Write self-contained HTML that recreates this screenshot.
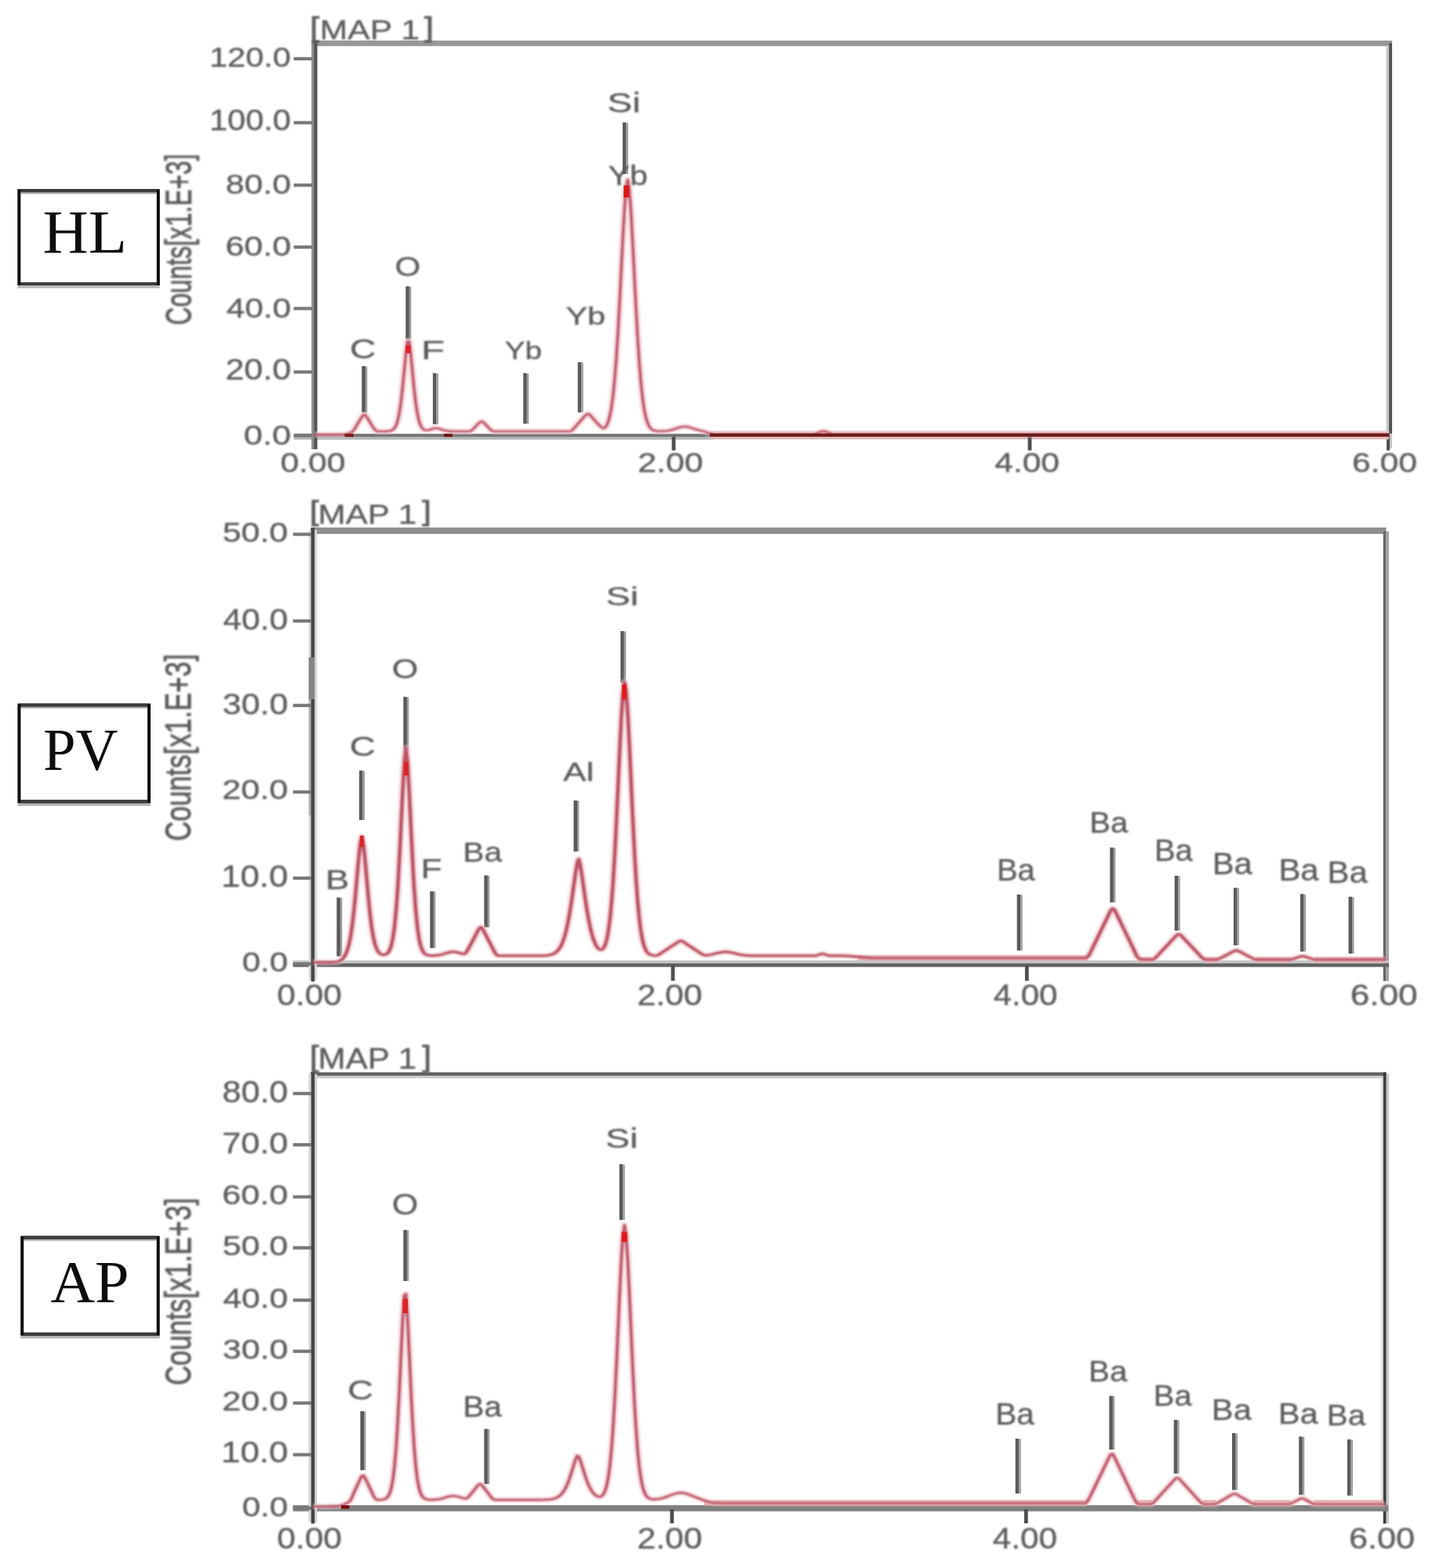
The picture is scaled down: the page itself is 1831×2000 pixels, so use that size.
<!DOCTYPE html>
<html lang="en">
<head>
<meta charset="utf-8">
<title>EDS spectra HL PV AP</title>
<style>
html,body{margin:0;padding:0;background:#fff;}
body{width:1831px;height:2000px;overflow:hidden;}
svg{display:block;}
text{white-space:pre;}
</style>
</head>
<body>
<svg width="1831" height="2000" viewBox="0 0 1831 2000">
<defs>
<filter id="soft" x="0" y="0" width="1831" height="2000" filterUnits="userSpaceOnUse"><feGaussianBlur stdDeviation="1.0"/></filter>
<filter id="soft3" x="0" y="0" width="1831" height="2000" filterUnits="userSpaceOnUse"><feGaussianBlur stdDeviation="1.1"/></filter>
<filter id="soft2" x="0" y="0" width="1831" height="2000" filterUnits="userSpaceOnUse"><feGaussianBlur stdDeviation="0.45"/></filter>
</defs>
<rect x="0" y="0" width="1831" height="2000" fill="#ffffff"/>
<g filter="url(#soft2)">
<rect x="397.20" y="51.70" width="1377.80" height="7.10" fill="#979797"/>
<rect x="1767.50" y="58.00" width="3.50" height="495.00" fill="#c6c6c6"/>
<rect x="1771.00" y="55.00" width="4.00" height="498.00" fill="#555"/>
<rect x="1768.00" y="553.00" width="4.00" height="21.60" fill="#4f4f4f"/>
<rect x="1772.00" y="553.00" width="3.00" height="19.00" fill="#c6c6c6"/>
<rect x="374.80" y="553.30" width="535.20" height="4.30" fill="#727272"/>
<rect x="374.80" y="557.60" width="535.20" height="3.20" fill="#b2b8b8"/>
<rect x="905.00" y="549.60" width="866.00" height="3.20" fill="#eccaca"/>
<rect x="905.00" y="557.10" width="866.00" height="3.30" fill="#d9baba"/>
<rect x="397.20" y="52.00" width="3.00" height="521.00" fill="#8c8c8c"/>
<rect x="400.20" y="52.00" width="4.40" height="521.00" fill="#555"/>
<rect x="374.50" y="72.80" width="23.50" height="4.20" fill="#787878"/>
<rect x="374.50" y="154.40" width="23.50" height="4.20" fill="#787878"/>
<rect x="374.50" y="234.10" width="23.50" height="4.20" fill="#787878"/>
<rect x="374.50" y="313.10" width="23.50" height="4.20" fill="#787878"/>
<rect x="374.50" y="391.40" width="23.50" height="4.20" fill="#787878"/>
<rect x="374.50" y="472.40" width="23.50" height="4.20" fill="#787878"/>
<rect x="374.50" y="553.40" width="23.50" height="4.20" fill="#787878"/>
<rect x="856.60" y="557.00" width="4.80" height="17.50" fill="#4f4f4f"/>
<rect x="1310.60" y="557.00" width="4.80" height="17.50" fill="#4f4f4f"/>
<rect x="461.30" y="467.00" width="4.60" height="59.30" fill="#5a5a5a"/>
<rect x="465.90" y="467.50" width="2.40" height="58.80" fill="#9c9c9c"/>
<rect x="517.30" y="365.20" width="4.60" height="67.30" fill="#5a5a5a"/>
<rect x="521.90" y="365.70" width="2.40" height="66.80" fill="#9c9c9c"/>
<rect x="551.90" y="476.00" width="4.60" height="65.20" fill="#5a5a5a"/>
<rect x="556.50" y="476.50" width="2.40" height="64.70" fill="#9c9c9c"/>
<rect x="667.20" y="476.00" width="4.60" height="64.50" fill="#5a5a5a"/>
<rect x="671.80" y="476.50" width="2.40" height="64.00" fill="#9c9c9c"/>
<rect x="736.70" y="462.00" width="4.60" height="64.00" fill="#5a5a5a"/>
<rect x="741.30" y="462.50" width="2.40" height="63.50" fill="#9c9c9c"/>
<rect x="793.90" y="156.20" width="4.60" height="65.80" fill="#5a5a5a"/>
<rect x="798.50" y="156.70" width="2.40" height="65.30" fill="#9c9c9c"/>
</g>
<g filter="url(#soft)">
<text transform="translate(266.98,85.35) scale(1.1711,1)" font-family="'Liberation Sans', sans-serif" font-size="35.48" fill="#5c5c5c" stroke="#5c5c5c" stroke-width="0.35">120.0</text>
<text transform="translate(266.98,166.34) scale(1.1394,1)" font-family="'Liberation Sans', sans-serif" font-size="36.47" fill="#5c5c5c" stroke="#5c5c5c" stroke-width="0.35">100.0</text>
<text transform="translate(287.78,246.74) scale(1.2013,1)" font-family="'Liberation Sans', sans-serif" font-size="35.62" fill="#5c5c5c" stroke="#5c5c5c" stroke-width="0.35">80.0</text>
<text transform="translate(287.45,325.54) scale(1.2014,1)" font-family="'Liberation Sans', sans-serif" font-size="35.76" fill="#5c5c5c" stroke="#5c5c5c" stroke-width="0.35">60.0</text>
<text transform="translate(288.65,405.35) scale(1.1933,1)" font-family="'Liberation Sans', sans-serif" font-size="35.48" fill="#5c5c5c" stroke="#5c5c5c" stroke-width="0.35">40.0</text>
<text transform="translate(287.45,483.64) scale(1.1781,1)" font-family="'Liberation Sans', sans-serif" font-size="36.47" fill="#5c5c5c" stroke="#5c5c5c" stroke-width="0.35">20.0</text>
<text transform="translate(310.87,567.35) scale(1.2198,1)" font-family="'Liberation Sans', sans-serif" font-size="35.48" fill="#5c5c5c" stroke="#5c5c5c" stroke-width="0.35">0.0</text>
<text transform="translate(357.39,602.25) scale(1.2175,1)" font-family="'Liberation Sans', sans-serif" font-size="35.05" fill="#5c5c5c" stroke="#5c5c5c" stroke-width="0.35">0.00</text>
<text transform="translate(813.16,602.25) scale(1.2225,1)" font-family="'Liberation Sans', sans-serif" font-size="35.05" fill="#5c5c5c" stroke="#5c5c5c" stroke-width="0.35">2.00</text>
<text transform="translate(1268.24,602.25) scale(1.2138,1)" font-family="'Liberation Sans', sans-serif" font-size="35.05" fill="#5c5c5c" stroke="#5c5c5c" stroke-width="0.35">4.00</text>
<text transform="translate(1723.97,602.25) scale(1.2148,1)" font-family="'Liberation Sans', sans-serif" font-size="35.05" fill="#5c5c5c" stroke="#5c5c5c" stroke-width="0.35">6.00</text>
<text transform="translate(445.99,456.54) scale(1.2947,1)" font-family="'Liberation Sans', sans-serif" font-size="35.76" fill="#5c5c5c" stroke="#5c5c5c" stroke-width="0.35">C</text>
<text transform="translate(503.60,351.55) scale(1.2087,1)" font-family="'Liberation Sans', sans-serif" font-size="34.91" fill="#5c5c5c" stroke="#5c5c5c" stroke-width="0.35">O</text>
<text transform="translate(537.04,458.00) scale(1.4845,1)" font-family="'Liberation Sans', sans-serif" font-size="33.16" fill="#5c5c5c" stroke="#5c5c5c" stroke-width="0.35">F</text>
<text transform="translate(643.73,457.69) scale(1.2450,1)" font-family="'Liberation Sans', sans-serif" font-size="31.02" fill="#5c5c5c" stroke="#5c5c5c" stroke-width="0.35">Yb</text>
<text transform="translate(721.47,413.79) scale(1.3339,1)" font-family="'Liberation Sans', sans-serif" font-size="31.02" fill="#5c5c5c" stroke="#5c5c5c" stroke-width="0.35">Yb</text>
<text transform="translate(774.34,142.96) scale(1.3937,1)" font-family="'Liberation Sans', sans-serif" font-size="34.42" fill="#5c5c5c" stroke="#5c5c5c" stroke-width="0.35">Si</text>
<text transform="translate(775.57,235.56) scale(1.1996,1)" font-family="'Liberation Sans', sans-serif" font-size="34.42" fill="#5c5c5c" stroke="#5c5c5c" stroke-width="0.35">Yb</text>
<text transform="scale(1.2263,1)" font-family="'Liberation Sans', sans-serif" font-size="34.76" fill="#5c5c5c" stroke="#5c5c5c" stroke-width="0.35"><tspan x="322.27" y="46.92" font-size="35.07" stroke-width="0.9">[</tspan><tspan x="332.54" y="49.80">MAP 1</tspan><tspan x="441.08" y="46.92" font-size="35.07" stroke-width="0.9">]</tspan></text>
<text transform="translate(243.64,414.69) rotate(-90) scale(0.6978,1)" font-family="'Liberation Sans', sans-serif" font-size="45.58" fill="#585858" stroke="#585858" stroke-width="0.8">Counts[x1.E+3]</text>
</g>
<g filter="url(#soft3)"><g transform="scale(1.35,1)"><path d="M297.04,554.4L307.82,554.4L310.90,554.4L312.44,554.4L313.99,554.4L315.53,554.4L317.07,554.4L318.61,554.4L320.15,554.4L321.69,554.3L323.23,554.2L324.77,554.1L326.31,553.8L327.85,553.4L329.39,552.8L330.93,552.0L332.47,551.1L334.01,548.9L335.56,545.7L337.10,542.2L338.64,538.7L340.18,535.3L341.72,531.9L343.26,529.2L344.80,529.1L346.34,531.7L347.88,535.0L350.96,541.8L352.50,545.1L354.04,548.1L355.59,549.8L357.13,550.2L358.67,550.2L360.21,550.2L361.75,550.2L363.29,550.2L364.83,550.1L366.37,550.0L367.91,549.8L369.45,549.3L370.99,548.2L372.53,546.2L374.07,542.6L375.61,536.5L377.16,526.8L378.70,512.9L380.24,494.5L381.78,473.0L383.32,451.4L384.86,435.4L386.40,435.4L387.94,451.4L389.48,473.0L391.02,494.5L392.56,512.9L394.10,526.8L395.64,536.4L397.19,542.5L398.73,546.1L400.27,547.9L401.81,548.7L403.35,548.8L404.89,548.4L406.43,547.8L407.97,547.2L409.51,546.6L411.05,546.2L412.59,546.2L414.13,546.6L415.67,547.2L417.21,547.9L418.76,548.6L420.30,549.1L421.84,549.6L423.38,549.9L424.92,550.0L426.46,550.1L428.00,550.2L429.54,550.2L431.08,550.2L432.62,550.2L434.16,550.2L441.87,550.2L443.41,550.1L444.95,549.5L446.49,547.8L448.03,545.7L452.65,539.2L454.19,537.7L455.73,537.8L457.27,539.6L461.90,546.1L463.44,548.2L464.98,549.7L466.52,550.2L468.06,550.2L537.39,550.2L538.93,549.9L540.47,548.7L542.01,546.5L549.72,534.6L552.80,529.9L554.34,528.0L555.88,527.9L557.42,529.6L558.96,532.0L560.50,534.4L562.04,536.7L563.59,539.0L565.13,541.2L566.67,543.2L568.21,545.0L569.75,546.2L571.29,545.7L572.83,543.0L574.37,538.3L575.91,530.9L577.45,520.2L578.99,504.9L580.53,484.3L582.07,457.7L583.61,425.0L585.16,387.0L586.70,345.9L588.24,304.6L589.78,267.8L591.32,240.5L592.86,229.2L594.40,241.7L595.94,269.7L597.48,307.0L599.02,348.3L600.56,389.3L602.10,427.0L603.64,459.4L605.19,485.6L606.73,505.9L608.27,520.9L609.81,531.4L611.35,538.6L612.89,543.3L614.43,546.2L615.97,547.9L617.51,549.0L619.05,549.5L620.59,549.8L622.13,550.0L623.67,550.0L625.21,550.0L626.76,549.9L628.30,549.7L629.84,549.5L631.38,549.2L632.92,548.8L634.46,548.2L636.00,547.7L637.54,547.0L639.08,546.3L640.62,545.6L642.16,545.0L643.70,544.6L645.24,544.3L646.79,544.2L648.33,544.3L649.87,544.6L651.41,545.1L652.95,545.7L654.49,546.4L656.03,547.1L657.57,547.8L659.11,548.4L660.65,548.9L662.19,549.4L663.73,549.9L665.27,550.4L666.81,551.1L668.36,551.9L669.90,552.7L671.44,553.3L672.98,553.8L674.52,554.1L676.06,554.2L677.60,554.3L679.14,554.4L680.68,554.4L682.22,554.4L683.76,554.4L685.30,554.4L686.84,554.4L689.93,554.4L753.10,554.4L757.72,554.4L759.26,554.4L760.80,554.4L762.34,554.4L763.88,554.4L765.42,554.3L766.96,554.2L768.50,553.9L770.04,553.4L771.59,552.7L773.13,551.8L774.67,550.9L776.21,550.2L777.75,549.9L779.29,550.2L780.83,550.8L782.37,551.8L783.91,552.7L785.45,553.4L786.99,553.9L788.53,554.2L790.07,554.3L791.61,554.4L793.16,554.4L794.70,554.4L796.24,554.4L797.78,554.4L1311.81,554.4" fill="none" stroke="#f4ccd2" stroke-width="7.6" stroke-linejoin="round" opacity="0.55"/><path d="M297.04,554.4L307.82,554.4L310.90,554.4L312.44,554.4L313.99,554.4L315.53,554.4L317.07,554.4L318.61,554.4L320.15,554.4L321.69,554.3L323.23,554.2L324.77,554.1L326.31,553.8L327.85,553.4L329.39,552.8L330.93,552.0L332.47,551.1L334.01,548.9L335.56,545.7L337.10,542.2L338.64,538.7L340.18,535.3L341.72,531.9L343.26,529.2L344.80,529.1L346.34,531.7L347.88,535.0L350.96,541.8L352.50,545.1L354.04,548.1L355.59,549.8L357.13,550.2L358.67,550.2L360.21,550.2L361.75,550.2L363.29,550.2L364.83,550.1L366.37,550.0L367.91,549.8L369.45,549.3L370.99,548.2L372.53,546.2L374.07,542.6L375.61,536.5L377.16,526.8L378.70,512.9L380.24,494.5L381.78,473.0L383.32,451.4L384.86,435.4L386.40,435.4L387.94,451.4L389.48,473.0L391.02,494.5L392.56,512.9L394.10,526.8L395.64,536.4L397.19,542.5L398.73,546.1L400.27,547.9L401.81,548.7L403.35,548.8L404.89,548.4L406.43,547.8L407.97,547.2L409.51,546.6L411.05,546.2L412.59,546.2L414.13,546.6L415.67,547.2L417.21,547.9L418.76,548.6L420.30,549.1L421.84,549.6L423.38,549.9L424.92,550.0L426.46,550.1L428.00,550.2L429.54,550.2L431.08,550.2L432.62,550.2L434.16,550.2L441.87,550.2L443.41,550.1L444.95,549.5L446.49,547.8L448.03,545.7L452.65,539.2L454.19,537.7L455.73,537.8L457.27,539.6L461.90,546.1L463.44,548.2L464.98,549.7L466.52,550.2L468.06,550.2L537.39,550.2L538.93,549.9L540.47,548.7L542.01,546.5L549.72,534.6L552.80,529.9L554.34,528.0L555.88,527.9L557.42,529.6L558.96,532.0L560.50,534.4L562.04,536.7L563.59,539.0L565.13,541.2L566.67,543.2L568.21,545.0L569.75,546.2L571.29,545.7L572.83,543.0L574.37,538.3L575.91,530.9L577.45,520.2L578.99,504.9L580.53,484.3L582.07,457.7L583.61,425.0L585.16,387.0L586.70,345.9L588.24,304.6L589.78,267.8L591.32,240.5L592.86,229.2L594.40,241.7L595.94,269.7L597.48,307.0L599.02,348.3L600.56,389.3L602.10,427.0L603.64,459.4L605.19,485.6L606.73,505.9L608.27,520.9L609.81,531.4L611.35,538.6L612.89,543.3L614.43,546.2L615.97,547.9L617.51,549.0L619.05,549.5L620.59,549.8L622.13,550.0L623.67,550.0L625.21,550.0L626.76,549.9L628.30,549.7L629.84,549.5L631.38,549.2L632.92,548.8L634.46,548.2L636.00,547.7L637.54,547.0L639.08,546.3L640.62,545.6L642.16,545.0L643.70,544.6L645.24,544.3L646.79,544.2L648.33,544.3L649.87,544.6L651.41,545.1L652.95,545.7L654.49,546.4L656.03,547.1L657.57,547.8L659.11,548.4L660.65,548.9L662.19,549.4L663.73,549.9L665.27,550.4L666.81,551.1L668.36,551.9L669.90,552.7L671.44,553.3L672.98,553.8L674.52,554.1L676.06,554.2L677.60,554.3L679.14,554.4L680.68,554.4L682.22,554.4L683.76,554.4L685.30,554.4L686.84,554.4L689.93,554.4L753.10,554.4L757.72,554.4L759.26,554.4L760.80,554.4L762.34,554.4L763.88,554.4L765.42,554.3L766.96,554.2L768.50,553.9L770.04,553.4L771.59,552.7L773.13,551.8L774.67,550.9L776.21,550.2L777.75,549.9L779.29,550.2L780.83,550.8L782.37,551.8L783.91,552.7L785.45,553.4L786.99,553.9L788.53,554.2L790.07,554.3L791.61,554.4L793.16,554.4L794.70,554.4L796.24,554.4L797.78,554.4L1311.81,554.4" fill="none" stroke="#c25a70" stroke-width="3.1" stroke-linejoin="round" stroke-linecap="butt"/></g></g>
<g filter="url(#soft2)">
<rect x="905.00" y="552.80" width="866.00" height="4.30" fill="#6e1b1b"/>
<rect x="439.50" y="553.30" width="11.50" height="4.00" fill="#7a1818"/>
<rect x="566.00" y="553.30" width="11.00" height="4.00" fill="#6a1616"/>
<rect x="795.20" y="236.50" width="7.00" height="15.50" fill="#e01818"/>
<rect x="517.40" y="440.30" width="6.00" height="10.20" fill="#dd2020"/>
</g>
<g filter="url(#soft2)">
<rect x="396.00" y="672.80" width="1371.50" height="8.20" fill="#8e8e8e"/>
<rect x="1763.70" y="677.70" width="3.80" height="573.60" fill="#666"/>
<rect x="1767.50" y="677.70" width="3.50" height="573.60" fill="#a2a2a2"/>
<rect x="373.60" y="1225.00" width="1397.40" height="3.60" fill="#c2c8c8"/>
<rect x="373.60" y="1228.60" width="1397.40" height="4.80" fill="#646464"/>
<rect x="393.70" y="676.00" width="10.50" height="574.00" fill="#d6d6d6"/>
<rect x="393.70" y="838.50" width="3.90" height="201.50" fill="#b0b0b0"/>
<rect x="396.60" y="673.30" width="4.50" height="578.70" fill="#474747"/>
<rect x="393.70" y="838.50" width="7.40" height="53.50" fill="#858585"/>
<rect x="373.60" y="679.40" width="23.40" height="4.20" fill="#787878"/>
<rect x="373.60" y="790.00" width="23.40" height="4.20" fill="#787878"/>
<rect x="373.60" y="897.70" width="23.40" height="4.20" fill="#787878"/>
<rect x="373.60" y="1008.10" width="23.40" height="4.20" fill="#787878"/>
<rect x="373.60" y="1118.00" width="23.40" height="4.20" fill="#787878"/>
<rect x="373.60" y="1227.30" width="23.40" height="4.20" fill="#787878"/>
<rect x="855.60" y="1231.00" width="4.80" height="20.00" fill="#4f4f4f"/>
<rect x="1306.90" y="1231.00" width="4.80" height="20.00" fill="#4f4f4f"/>
<rect x="429.30" y="1144.70" width="4.60" height="75.10" fill="#5a5a5a"/>
<rect x="433.90" y="1145.20" width="2.40" height="74.60" fill="#9c9c9c"/>
<rect x="458.00" y="982.80" width="4.60" height="63.20" fill="#5a5a5a"/>
<rect x="462.60" y="983.30" width="2.40" height="62.70" fill="#9c9c9c"/>
<rect x="514.30" y="888.80" width="4.60" height="66.20" fill="#5a5a5a"/>
<rect x="518.90" y="889.30" width="2.40" height="65.70" fill="#9c9c9c"/>
<rect x="548.30" y="1136.80" width="4.60" height="72.50" fill="#5a5a5a"/>
<rect x="552.90" y="1137.30" width="2.40" height="72.00" fill="#9c9c9c"/>
<rect x="617.30" y="1116.50" width="4.60" height="66.30" fill="#5a5a5a"/>
<rect x="621.90" y="1117.00" width="2.40" height="65.80" fill="#9c9c9c"/>
<rect x="731.40" y="1021.00" width="4.60" height="65.00" fill="#5a5a5a"/>
<rect x="736.00" y="1021.50" width="2.40" height="64.50" fill="#9c9c9c"/>
<rect x="791.20" y="805.00" width="4.60" height="66.00" fill="#5a5a5a"/>
<rect x="795.80" y="805.50" width="2.40" height="65.50" fill="#9c9c9c"/>
<rect x="1296.70" y="1141.00" width="4.60" height="71.40" fill="#5a5a5a"/>
<rect x="1301.30" y="1141.50" width="2.40" height="70.90" fill="#9c9c9c"/>
<rect x="1415.30" y="1081.00" width="4.60" height="70.00" fill="#5a5a5a"/>
<rect x="1419.90" y="1081.50" width="2.40" height="69.50" fill="#9c9c9c"/>
<rect x="1497.70" y="1117.00" width="4.60" height="70.00" fill="#5a5a5a"/>
<rect x="1502.30" y="1117.50" width="2.40" height="69.50" fill="#9c9c9c"/>
<rect x="1572.90" y="1132.40" width="4.60" height="73.40" fill="#5a5a5a"/>
<rect x="1577.50" y="1132.90" width="2.40" height="72.90" fill="#9c9c9c"/>
<rect x="1658.00" y="1140.30" width="4.60" height="73.40" fill="#5a5a5a"/>
<rect x="1662.60" y="1140.80" width="2.40" height="72.90" fill="#9c9c9c"/>
<rect x="1719.50" y="1143.80" width="4.60" height="72.50" fill="#5a5a5a"/>
<rect x="1724.10" y="1144.30" width="2.40" height="72.00" fill="#9c9c9c"/>
<rect x="1094.00" y="1218.40" width="293.00" height="6.80" fill="#e6a4a8"/>
<rect x="1451.00" y="1220.60" width="19.00" height="7.00" fill="#e6a4a8"/>
<rect x="1535.00" y="1220.60" width="18.00" height="7.00" fill="#e6a4a8"/>
<rect x="1601.00" y="1220.60" width="46.00" height="7.00" fill="#e6a4a8"/>
<rect x="1677.00" y="1220.60" width="87.00" height="7.00" fill="#e6a4a8"/>
</g>
<g filter="url(#soft)">
<text transform="translate(283.68,691.05) scale(1.2153,1)" font-family="'Liberation Sans', sans-serif" font-size="35.34" fill="#5c5c5c" stroke="#5c5c5c" stroke-width="0.35">50.0</text>
<text transform="translate(284.44,802.54) scale(1.1667,1)" font-family="'Liberation Sans', sans-serif" font-size="36.47" fill="#5c5c5c" stroke="#5c5c5c" stroke-width="0.35">40.0</text>
<text transform="translate(283.79,911.03) scale(1.1670,1)" font-family="'Liberation Sans', sans-serif" font-size="36.75" fill="#5c5c5c" stroke="#5c5c5c" stroke-width="0.35">30.0</text>
<text transform="translate(283.24,1019.24) scale(1.2026,1)" font-family="'Liberation Sans', sans-serif" font-size="35.90" fill="#5c5c5c" stroke="#5c5c5c" stroke-width="0.35">20.0</text>
<text transform="translate(282.12,1130.62) scale(1.1554,1)" font-family="'Liberation Sans', sans-serif" font-size="37.88" fill="#5c5c5c" stroke="#5c5c5c" stroke-width="0.35">10.0</text>
<text transform="translate(308.72,1239.05) scale(1.1855,1)" font-family="'Liberation Sans', sans-serif" font-size="35.48" fill="#5c5c5c" stroke="#5c5c5c" stroke-width="0.35">0.0</text>
<text transform="translate(353.30,1281.74) scale(1.1767,1)" font-family="'Liberation Sans', sans-serif" font-size="36.04" fill="#5c5c5c" stroke="#5c5c5c" stroke-width="0.35">0.00</text>
<text transform="translate(812.47,1281.74) scale(1.1845,1)" font-family="'Liberation Sans', sans-serif" font-size="36.04" fill="#5c5c5c" stroke="#5c5c5c" stroke-width="0.35">2.00</text>
<text transform="translate(1266.65,1281.74) scale(1.1672,1)" font-family="'Liberation Sans', sans-serif" font-size="36.04" fill="#5c5c5c" stroke="#5c5c5c" stroke-width="0.35">4.00</text>
<text transform="translate(1721.70,1281.74) scale(1.2233,1)" font-family="'Liberation Sans', sans-serif" font-size="36.04" fill="#5c5c5c" stroke="#5c5c5c" stroke-width="0.35">6.00</text>
<text transform="translate(415.07,1134.40) scale(1.2911,1)" font-family="'Liberation Sans', sans-serif" font-size="35.05" fill="#5c5c5c" stroke="#5c5c5c" stroke-width="0.35">B</text>
<text transform="translate(445.81,964.05) scale(1.2969,1)" font-family="'Liberation Sans', sans-serif" font-size="35.34" fill="#5c5c5c" stroke="#5c5c5c" stroke-width="0.35">C</text>
<text transform="translate(499.75,864.55) scale(1.2191,1)" font-family="'Liberation Sans', sans-serif" font-size="35.34" fill="#5c5c5c" stroke="#5c5c5c" stroke-width="0.35">O</text>
<text transform="translate(536.56,1119.60) scale(1.2581,1)" font-family="'Liberation Sans', sans-serif" font-size="35.05" fill="#5c5c5c" stroke="#5c5c5c" stroke-width="0.35">F</text>
<text transform="translate(590.24,1098.54) scale(1.1447,1)" font-family="'Liberation Sans', sans-serif" font-size="35.56" fill="#5c5c5c" stroke="#5c5c5c" stroke-width="0.35">Ba</text>
<text transform="translate(718.09,996.40) scale(1.3336,1)" font-family="'Liberation Sans', sans-serif" font-size="33.10" fill="#5c5c5c" stroke="#5c5c5c" stroke-width="0.35">Al</text>
<text transform="translate(772.49,772.06) scale(1.3875,1)" font-family="'Liberation Sans', sans-serif" font-size="33.74" fill="#5c5c5c" stroke="#5c5c5c" stroke-width="0.35">Si</text>
<text transform="translate(1271.01,1123.02) scale(1.0388,1)" font-family="'Liberation Sans', sans-serif" font-size="38.42" fill="#5c5c5c" stroke="#5c5c5c" stroke-width="0.35">Ba</text>
<text transform="translate(1389.29,1062.03) scale(1.0838,1)" font-family="'Liberation Sans', sans-serif" font-size="36.99" fill="#5c5c5c" stroke="#5c5c5c" stroke-width="0.35">Ba</text>
<text transform="translate(1471.90,1097.52) scale(1.0410,1)" font-family="'Liberation Sans', sans-serif" font-size="38.42" fill="#5c5c5c" stroke="#5c5c5c" stroke-width="0.35">Ba</text>
<text transform="translate(1545.76,1115.21) scale(1.0589,1)" font-family="'Liberation Sans', sans-serif" font-size="39.43" fill="#5c5c5c" stroke="#5c5c5c" stroke-width="0.35">Ba</text>
<text transform="translate(1630.45,1123.11) scale(1.0612,1)" font-family="'Liberation Sans', sans-serif" font-size="39.43" fill="#5c5c5c" stroke="#5c5c5c" stroke-width="0.35">Ba</text>
<text transform="translate(1692.56,1126.21) scale(1.0589,1)" font-family="'Liberation Sans', sans-serif" font-size="39.43" fill="#5c5c5c" stroke="#5c5c5c" stroke-width="0.35">Ba</text>
<text transform="scale(1.1719,1)" font-family="'Liberation Sans', sans-serif" font-size="35.93" fill="#5c5c5c" stroke="#5c5c5c" stroke-width="0.35"><tspan x="337.16" y="664.50" font-size="35.17" stroke-width="0.9">[</tspan><tspan x="346.13" y="668.00">MAP 1</tspan><tspan x="459.38" y="664.50" font-size="35.17" stroke-width="0.9">]</tspan></text>
<text transform="translate(243.08,1072.74) rotate(-90) scale(0.7416,1)" font-family="'Liberation Sans', sans-serif" font-size="46.86" fill="#585858" stroke="#585858" stroke-width="0.8">Counts[x1.E+3]</text>
</g>
<g filter="url(#soft3)"><g transform="scale(1.45,1)"><path d="M275.17,1227.5L278.04,1227.5L280.91,1227.5L282.34,1227.5L283.78,1227.5L285.21,1227.5L286.65,1227.5L288.08,1227.5L289.52,1227.4L290.95,1227.4L292.39,1227.3L293.82,1227.2L295.26,1227.0L296.69,1226.6L298.12,1226.0L299.56,1225.0L300.99,1223.4L302.43,1221.0L303.86,1217.5L305.30,1212.4L306.73,1205.3L308.17,1195.3L309.60,1181.8L311.03,1164.4L312.47,1143.2L313.90,1119.4L315.34,1095.8L316.77,1076.2L318.21,1067.2L319.64,1077.7L321.08,1097.8L322.51,1121.6L323.94,1145.0L325.38,1165.7L326.81,1182.5L328.25,1195.1L329.68,1204.0L331.12,1210.0L332.55,1213.8L333.99,1216.1L335.42,1217.4L336.86,1217.9L338.29,1217.8L339.72,1217.0L341.16,1215.2L342.59,1211.9L344.03,1206.2L345.46,1196.8L346.90,1182.3L348.33,1161.1L349.77,1132.3L351.20,1095.8L352.63,1053.5L354.07,1010.1L355.50,973.1L356.94,954.1L358.37,971.9L359.81,1008.5L361.24,1051.9L362.68,1094.2L364.11,1131.0L365.54,1160.2L366.98,1181.6L368.41,1196.4L369.85,1205.9L371.28,1211.8L372.72,1215.2L374.15,1217.1L375.59,1218.1L377.02,1218.6L378.46,1218.8L379.89,1218.9L381.32,1218.8L382.76,1218.7L384.19,1218.5L385.63,1218.3L387.06,1217.9L388.50,1217.4L389.93,1216.8L391.37,1216.2L392.80,1215.6L394.23,1215.0L395.67,1214.5L397.10,1214.2L398.54,1214.1L399.97,1214.2L401.41,1214.5L402.84,1215.0L404.28,1215.5L405.71,1216.2L407.14,1216.8L408.58,1216.5L410.01,1214.6L411.45,1211.2L412.88,1207.4L414.32,1203.6L415.75,1199.7L417.19,1195.7L418.62,1191.7L420.06,1187.7L421.49,1184.0L422.92,1182.6L424.36,1184.7L425.79,1188.7L427.23,1192.7L430.10,1200.8L434.40,1213.0L435.83,1216.6L437.27,1218.6L438.70,1219.1L455.92,1219.1L460.22,1219.1L463.09,1219.1L464.52,1219.1L465.96,1219.1L467.39,1219.1L468.83,1219.1L470.26,1219.1L471.70,1219.1L473.13,1219.1L474.57,1219.0L476.00,1219.0L477.43,1218.9L478.87,1218.8L480.30,1218.7L481.74,1218.5L483.17,1218.1L484.61,1217.7L486.04,1217.0L487.48,1216.0L488.91,1214.6L490.34,1212.7L491.78,1210.1L493.21,1206.7L494.65,1202.2L496.08,1196.3L497.52,1189.0L498.95,1180.0L500.39,1169.2L501.82,1156.7L503.26,1142.7L504.69,1128.0L506.12,1113.5L507.56,1101.1L508.99,1095.6L510.43,1104.7L511.86,1118.1L513.30,1132.9L514.73,1147.4L516.17,1160.9L517.60,1172.9L519.03,1183.1L520.47,1191.5L521.90,1198.3L523.34,1203.5L524.77,1207.3L526.21,1209.9L527.64,1211.3L529.08,1211.3L530.51,1209.7L531.94,1205.9L533.38,1199.3L534.81,1188.9L536.25,1173.7L537.68,1152.7L539.12,1125.1L540.55,1090.5L541.99,1049.9L543.42,1005.1L544.86,959.5L546.29,917.8L547.72,885.8L549.16,870.3L550.59,880.9L552.03,910.1L553.46,950.2L554.90,995.5L556.33,1040.8L557.77,1082.5L559.20,1118.5L560.63,1147.8L562.07,1170.3L563.50,1186.9L564.94,1198.6L566.37,1206.5L567.81,1211.6L569.24,1214.8L570.68,1216.7L572.11,1217.8L573.54,1218.4L574.98,1218.8L576.41,1218.9L577.85,1218.6L579.28,1217.7L580.72,1216.4L582.15,1215.0L583.59,1213.6L585.02,1212.2L587.89,1209.5L596.50,1201.2L597.93,1200.1L599.37,1200.1L600.80,1201.2L603.67,1204.0L605.10,1205.4L606.54,1206.7L607.97,1208.1L609.41,1209.5L610.84,1210.9L612.28,1212.3L613.71,1213.6L615.14,1215.0L616.58,1216.3L618.01,1217.5L619.45,1218.3L620.88,1218.5L622.32,1218.3L623.75,1217.9L625.19,1217.6L626.62,1217.1L628.06,1216.6L629.49,1216.1L630.92,1215.6L632.36,1215.1L633.79,1214.7L635.23,1214.4L636.66,1214.2L638.10,1214.1L639.53,1214.2L640.97,1214.4L642.40,1214.8L643.83,1215.2L645.27,1215.7L646.70,1216.2L648.14,1216.8L649.57,1217.2L651.01,1217.7L652.44,1218.0L653.88,1218.3L655.31,1218.5L656.74,1218.7L658.18,1218.8L659.61,1218.9L661.05,1219.0L662.48,1219.0L663.92,1219.1L665.35,1219.1L666.79,1219.1L668.22,1219.1L669.66,1219.1L671.09,1219.1L673.96,1219.1L715.56,1219.1L716.99,1219.0L718.43,1218.6L719.86,1217.9L721.30,1217.1L722.73,1216.6L724.17,1216.8L725.60,1217.5L727.03,1218.2L728.47,1218.8L729.90,1219.1L731.34,1219.1L732.77,1219.1L734.21,1219.1L735.64,1219.1L737.08,1219.1L738.51,1219.1L739.94,1219.1L741.38,1219.2L742.81,1219.2L744.25,1219.3L745.68,1219.4L747.12,1219.5L748.55,1219.7L749.99,1219.9L751.42,1220.1L752.86,1220.3L754.29,1220.5L755.72,1220.6L757.16,1220.8L758.59,1221.0L760.03,1221.3L761.46,1221.5L762.90,1221.6L764.33,1221.7L765.77,1221.8L767.20,1221.8L768.63,1221.9L770.07,1221.9L771.50,1221.9L772.94,1221.9L774.37,1221.9L775.81,1221.9L777.24,1221.9L780.11,1221.9L785.85,1221.9L953.68,1221.9L955.12,1221.8L956.55,1220.5L957.99,1217.3L959.42,1213.1L976.63,1161.6L978.07,1158.8L979.50,1159.4L980.94,1163.0L983.81,1171.6L986.68,1180.2L988.11,1184.5L989.54,1188.8L990.98,1193.1L992.41,1197.4L993.85,1201.7L995.28,1206.0L996.72,1210.4L998.15,1214.9L999.59,1219.2L1001.02,1222.1L1002.46,1223.3L1003.89,1223.6L1005.32,1223.8L1006.76,1223.9L1008.19,1224.0L1009.63,1224.1L1011.06,1224.1L1012.50,1224.1L1013.93,1223.8L1015.37,1222.6L1016.80,1220.5L1019.67,1216.1L1034.01,1194.0L1035.45,1192.1L1036.88,1191.5L1038.32,1192.8L1056.97,1221.5L1058.40,1223.2L1059.83,1224.0L1061.27,1224.1L1068.44,1224.1L1069.88,1224.0L1071.31,1223.4L1072.74,1222.5L1084.22,1213.8L1085.66,1212.8L1087.09,1212.2L1088.52,1212.7L1089.96,1213.7L1101.43,1222.4L1102.87,1223.4L1104.30,1223.9L1105.74,1224.1L1132.99,1224.1L1134.43,1224.0L1135.86,1223.7L1137.30,1223.1L1143.03,1220.3L1144.47,1219.7L1145.90,1219.6L1147.34,1220.0L1153.08,1222.8L1154.51,1223.4L1155.94,1223.9L1157.38,1224.1L1158.81,1224.1L1216.19,1224.1L1218.70,1224.1" fill="none" stroke="#f4ccd2" stroke-width="7.6" stroke-linejoin="round" opacity="0.55"/><path d="M275.17,1227.5L278.04,1227.5L280.91,1227.5L282.34,1227.5L283.78,1227.5L285.21,1227.5L286.65,1227.5L288.08,1227.5L289.52,1227.4L290.95,1227.4L292.39,1227.3L293.82,1227.2L295.26,1227.0L296.69,1226.6L298.12,1226.0L299.56,1225.0L300.99,1223.4L302.43,1221.0L303.86,1217.5L305.30,1212.4L306.73,1205.3L308.17,1195.3L309.60,1181.8L311.03,1164.4L312.47,1143.2L313.90,1119.4L315.34,1095.8L316.77,1076.2L318.21,1067.2L319.64,1077.7L321.08,1097.8L322.51,1121.6L323.94,1145.0L325.38,1165.7L326.81,1182.5L328.25,1195.1L329.68,1204.0L331.12,1210.0L332.55,1213.8L333.99,1216.1L335.42,1217.4L336.86,1217.9L338.29,1217.8L339.72,1217.0L341.16,1215.2L342.59,1211.9L344.03,1206.2L345.46,1196.8L346.90,1182.3L348.33,1161.1L349.77,1132.3L351.20,1095.8L352.63,1053.5L354.07,1010.1L355.50,973.1L356.94,954.1L358.37,971.9L359.81,1008.5L361.24,1051.9L362.68,1094.2L364.11,1131.0L365.54,1160.2L366.98,1181.6L368.41,1196.4L369.85,1205.9L371.28,1211.8L372.72,1215.2L374.15,1217.1L375.59,1218.1L377.02,1218.6L378.46,1218.8L379.89,1218.9L381.32,1218.8L382.76,1218.7L384.19,1218.5L385.63,1218.3L387.06,1217.9L388.50,1217.4L389.93,1216.8L391.37,1216.2L392.80,1215.6L394.23,1215.0L395.67,1214.5L397.10,1214.2L398.54,1214.1L399.97,1214.2L401.41,1214.5L402.84,1215.0L404.28,1215.5L405.71,1216.2L407.14,1216.8L408.58,1216.5L410.01,1214.6L411.45,1211.2L412.88,1207.4L414.32,1203.6L415.75,1199.7L417.19,1195.7L418.62,1191.7L420.06,1187.7L421.49,1184.0L422.92,1182.6L424.36,1184.7L425.79,1188.7L427.23,1192.7L430.10,1200.8L434.40,1213.0L435.83,1216.6L437.27,1218.6L438.70,1219.1L455.92,1219.1L460.22,1219.1L463.09,1219.1L464.52,1219.1L465.96,1219.1L467.39,1219.1L468.83,1219.1L470.26,1219.1L471.70,1219.1L473.13,1219.1L474.57,1219.0L476.00,1219.0L477.43,1218.9L478.87,1218.8L480.30,1218.7L481.74,1218.5L483.17,1218.1L484.61,1217.7L486.04,1217.0L487.48,1216.0L488.91,1214.6L490.34,1212.7L491.78,1210.1L493.21,1206.7L494.65,1202.2L496.08,1196.3L497.52,1189.0L498.95,1180.0L500.39,1169.2L501.82,1156.7L503.26,1142.7L504.69,1128.0L506.12,1113.5L507.56,1101.1L508.99,1095.6L510.43,1104.7L511.86,1118.1L513.30,1132.9L514.73,1147.4L516.17,1160.9L517.60,1172.9L519.03,1183.1L520.47,1191.5L521.90,1198.3L523.34,1203.5L524.77,1207.3L526.21,1209.9L527.64,1211.3L529.08,1211.3L530.51,1209.7L531.94,1205.9L533.38,1199.3L534.81,1188.9L536.25,1173.7L537.68,1152.7L539.12,1125.1L540.55,1090.5L541.99,1049.9L543.42,1005.1L544.86,959.5L546.29,917.8L547.72,885.8L549.16,870.3L550.59,880.9L552.03,910.1L553.46,950.2L554.90,995.5L556.33,1040.8L557.77,1082.5L559.20,1118.5L560.63,1147.8L562.07,1170.3L563.50,1186.9L564.94,1198.6L566.37,1206.5L567.81,1211.6L569.24,1214.8L570.68,1216.7L572.11,1217.8L573.54,1218.4L574.98,1218.8L576.41,1218.9L577.85,1218.6L579.28,1217.7L580.72,1216.4L582.15,1215.0L583.59,1213.6L585.02,1212.2L587.89,1209.5L596.50,1201.2L597.93,1200.1L599.37,1200.1L600.80,1201.2L603.67,1204.0L605.10,1205.4L606.54,1206.7L607.97,1208.1L609.41,1209.5L610.84,1210.9L612.28,1212.3L613.71,1213.6L615.14,1215.0L616.58,1216.3L618.01,1217.5L619.45,1218.3L620.88,1218.5L622.32,1218.3L623.75,1217.9L625.19,1217.6L626.62,1217.1L628.06,1216.6L629.49,1216.1L630.92,1215.6L632.36,1215.1L633.79,1214.7L635.23,1214.4L636.66,1214.2L638.10,1214.1L639.53,1214.2L640.97,1214.4L642.40,1214.8L643.83,1215.2L645.27,1215.7L646.70,1216.2L648.14,1216.8L649.57,1217.2L651.01,1217.7L652.44,1218.0L653.88,1218.3L655.31,1218.5L656.74,1218.7L658.18,1218.8L659.61,1218.9L661.05,1219.0L662.48,1219.0L663.92,1219.1L665.35,1219.1L666.79,1219.1L668.22,1219.1L669.66,1219.1L671.09,1219.1L673.96,1219.1L715.56,1219.1L716.99,1219.0L718.43,1218.6L719.86,1217.9L721.30,1217.1L722.73,1216.6L724.17,1216.8L725.60,1217.5L727.03,1218.2L728.47,1218.8L729.90,1219.1L731.34,1219.1L732.77,1219.1L734.21,1219.1L735.64,1219.1L737.08,1219.1L738.51,1219.1L739.94,1219.1L741.38,1219.2L742.81,1219.2L744.25,1219.3L745.68,1219.4L747.12,1219.5L748.55,1219.7L749.99,1219.9L751.42,1220.1L752.86,1220.3L754.29,1220.5L755.72,1220.6L757.16,1220.8L758.59,1221.0L760.03,1221.3L761.46,1221.5L762.90,1221.6L764.33,1221.7L765.77,1221.8L767.20,1221.8L768.63,1221.9L770.07,1221.9L771.50,1221.9L772.94,1221.9L774.37,1221.9L775.81,1221.9L777.24,1221.9L780.11,1221.9L785.85,1221.9L953.68,1221.9L955.12,1221.8L956.55,1220.5L957.99,1217.3L959.42,1213.1L976.63,1161.6L978.07,1158.8L979.50,1159.4L980.94,1163.0L983.81,1171.6L986.68,1180.2L988.11,1184.5L989.54,1188.8L990.98,1193.1L992.41,1197.4L993.85,1201.7L995.28,1206.0L996.72,1210.4L998.15,1214.9L999.59,1219.2L1001.02,1222.1L1002.46,1223.3L1003.89,1223.6L1005.32,1223.8L1006.76,1223.9L1008.19,1224.0L1009.63,1224.1L1011.06,1224.1L1012.50,1224.1L1013.93,1223.8L1015.37,1222.6L1016.80,1220.5L1019.67,1216.1L1034.01,1194.0L1035.45,1192.1L1036.88,1191.5L1038.32,1192.8L1056.97,1221.5L1058.40,1223.2L1059.83,1224.0L1061.27,1224.1L1068.44,1224.1L1069.88,1224.0L1071.31,1223.4L1072.74,1222.5L1084.22,1213.8L1085.66,1212.8L1087.09,1212.2L1088.52,1212.7L1089.96,1213.7L1101.43,1222.4L1102.87,1223.4L1104.30,1223.9L1105.74,1224.1L1132.99,1224.1L1134.43,1224.0L1135.86,1223.7L1137.30,1223.1L1143.03,1220.3L1144.47,1219.7L1145.90,1219.6L1147.34,1220.0L1153.08,1222.8L1154.51,1223.4L1155.94,1223.9L1157.38,1224.1L1158.81,1224.1L1216.19,1224.1L1218.70,1224.1" fill="none" stroke="#bd5366" stroke-width="3.5" stroke-linejoin="round" stroke-linecap="butt"/></g></g>
<g filter="url(#soft2)">
<rect x="793.20" y="873.00" width="5.40" height="19.00" fill="#e01818"/>
<rect x="515.20" y="972.00" width="5.40" height="17.00" fill="#dd2020"/>
<rect x="459.20" y="1066.00" width="4.60" height="14.00" fill="#dd2020"/>
</g>
<g filter="url(#soft2)">
<rect x="396.00" y="1367.70" width="1371.50" height="4.30" fill="#626262"/>
<rect x="399.00" y="1372.00" width="1366.00" height="3.30" fill="#c8c8c8"/>
<rect x="1760.50" y="1376.00" width="3.20" height="544.00" fill="#e6e6e6"/>
<rect x="1767.50" y="1370.00" width="3.50" height="573.00" fill="#c8c8c8"/>
<rect x="1763.70" y="1367.70" width="3.80" height="575.70" fill="#3c3c3c"/>
<rect x="373.60" y="1919.80" width="1396.40" height="7.90" fill="#808080"/>
<rect x="393.70" y="1370.00" width="10.50" height="572.00" fill="#d2d2d2"/>
<rect x="396.80" y="1367.20" width="4.40" height="576.20" fill="#444"/>
<rect x="373.60" y="1392.70" width="23.40" height="4.20" fill="#787878"/>
<rect x="373.60" y="1458.10" width="23.40" height="4.20" fill="#787878"/>
<rect x="373.60" y="1524.50" width="23.40" height="4.20" fill="#787878"/>
<rect x="373.60" y="1589.50" width="23.40" height="4.20" fill="#787878"/>
<rect x="373.60" y="1656.30" width="23.40" height="4.20" fill="#787878"/>
<rect x="373.60" y="1721.50" width="23.40" height="4.20" fill="#787878"/>
<rect x="373.60" y="1787.50" width="23.40" height="4.20" fill="#787878"/>
<rect x="373.60" y="1853.40" width="23.40" height="4.20" fill="#787878"/>
<rect x="373.60" y="1921.60" width="23.40" height="4.20" fill="#787878"/>
<rect x="854.40" y="1925.00" width="4.80" height="18.00" fill="#4f4f4f"/>
<rect x="1305.90" y="1925.00" width="4.80" height="18.00" fill="#4f4f4f"/>
<rect x="459.40" y="1800.00" width="4.60" height="75.20" fill="#5a5a5a"/>
<rect x="464.00" y="1800.50" width="2.40" height="74.70" fill="#9c9c9c"/>
<rect x="514.30" y="1568.80" width="4.60" height="65.20" fill="#5a5a5a"/>
<rect x="518.90" y="1569.30" width="2.40" height="64.70" fill="#9c9c9c"/>
<rect x="617.30" y="1822.60" width="4.60" height="70.40" fill="#5a5a5a"/>
<rect x="621.90" y="1823.10" width="2.40" height="69.90" fill="#9c9c9c"/>
<rect x="789.70" y="1485.00" width="4.60" height="71.00" fill="#5a5a5a"/>
<rect x="794.30" y="1485.50" width="2.40" height="70.50" fill="#9c9c9c"/>
<rect x="1294.70" y="1835.00" width="4.60" height="70.00" fill="#5a5a5a"/>
<rect x="1299.30" y="1835.50" width="2.40" height="69.50" fill="#9c9c9c"/>
<rect x="1414.30" y="1780.50" width="4.60" height="68.50" fill="#5a5a5a"/>
<rect x="1418.90" y="1781.00" width="2.40" height="68.00" fill="#9c9c9c"/>
<rect x="1496.70" y="1811.00" width="4.60" height="68.60" fill="#5a5a5a"/>
<rect x="1501.30" y="1811.50" width="2.40" height="68.10" fill="#9c9c9c"/>
<rect x="1571.00" y="1828.00" width="4.60" height="72.60" fill="#5a5a5a"/>
<rect x="1575.60" y="1828.50" width="2.40" height="72.10" fill="#9c9c9c"/>
<rect x="1656.20" y="1832.40" width="4.60" height="74.30" fill="#5a5a5a"/>
<rect x="1660.80" y="1832.90" width="2.40" height="73.80" fill="#9c9c9c"/>
<rect x="1717.90" y="1836.00" width="4.60" height="71.60" fill="#5a5a5a"/>
<rect x="1722.50" y="1836.50" width="2.40" height="71.10" fill="#9c9c9c"/>
<rect x="898.00" y="1913.40" width="488.00" height="7.00" fill="#e6a4a8"/>
<rect x="1450.00" y="1913.40" width="19.00" height="7.00" fill="#e6a4a8"/>
<rect x="1533.00" y="1913.40" width="18.00" height="7.00" fill="#e6a4a8"/>
<rect x="1598.00" y="1913.40" width="48.00" height="7.00" fill="#e6a4a8"/>
<rect x="1675.00" y="1913.40" width="89.00" height="7.00" fill="#e6a4a8"/>
</g>
<g filter="url(#soft)">
<text transform="translate(283.57,1405.52) scale(1.1352,1)" font-family="'Liberation Sans', sans-serif" font-size="37.88" fill="#5c5c5c" stroke="#5c5c5c" stroke-width="0.35">80.0</text>
<text transform="translate(283.24,1471.04) scale(1.1840,1)" font-family="'Liberation Sans', sans-serif" font-size="36.47" fill="#5c5c5c" stroke="#5c5c5c" stroke-width="0.35">70.0</text>
<text transform="translate(283.24,1536.34) scale(1.2122,1)" font-family="'Liberation Sans', sans-serif" font-size="35.62" fill="#5c5c5c" stroke="#5c5c5c" stroke-width="0.35">60.0</text>
<text transform="translate(283.68,1601.34) scale(1.2057,1)" font-family="'Liberation Sans', sans-serif" font-size="35.62" fill="#5c5c5c" stroke="#5c5c5c" stroke-width="0.35">50.0</text>
<text transform="translate(284.44,1668.14) scale(1.1945,1)" font-family="'Liberation Sans', sans-serif" font-size="35.62" fill="#5c5c5c" stroke="#5c5c5c" stroke-width="0.35">40.0</text>
<text transform="translate(283.79,1733.34) scale(1.2041,1)" font-family="'Liberation Sans', sans-serif" font-size="35.62" fill="#5c5c5c" stroke="#5c5c5c" stroke-width="0.35">30.0</text>
<text transform="translate(283.24,1799.34) scale(1.2122,1)" font-family="'Liberation Sans', sans-serif" font-size="35.62" fill="#5c5c5c" stroke="#5c5c5c" stroke-width="0.35">20.0</text>
<text transform="translate(282.12,1864.63) scale(1.1955,1)" font-family="'Liberation Sans', sans-serif" font-size="36.61" fill="#5c5c5c" stroke="#5c5c5c" stroke-width="0.35">10.0</text>
<text transform="translate(308.72,1933.75) scale(1.1902,1)" font-family="'Liberation Sans', sans-serif" font-size="35.34" fill="#5c5c5c" stroke="#5c5c5c" stroke-width="0.35">0.0</text>
<text transform="translate(353.30,1975.04) scale(1.1630,1)" font-family="'Liberation Sans', sans-serif" font-size="36.47" fill="#5c5c5c" stroke="#5c5c5c" stroke-width="0.35">0.00</text>
<text transform="translate(812.47,1975.04) scale(1.1707,1)" font-family="'Liberation Sans', sans-serif" font-size="36.47" fill="#5c5c5c" stroke="#5c5c5c" stroke-width="0.35">2.00</text>
<text transform="translate(1265.65,1975.04) scale(1.1609,1)" font-family="'Liberation Sans', sans-serif" font-size="36.47" fill="#5c5c5c" stroke="#5c5c5c" stroke-width="0.35">4.00</text>
<text transform="translate(1720.04,1975.04) scale(1.1825,1)" font-family="'Liberation Sans', sans-serif" font-size="36.47" fill="#5c5c5c" stroke="#5c5c5c" stroke-width="0.35">6.00</text>
<text transform="translate(443.33,1784.54) scale(1.2683,1)" font-family="'Liberation Sans', sans-serif" font-size="35.76" fill="#5c5c5c" stroke="#5c5c5c" stroke-width="0.35">C</text>
<text transform="translate(499.75,1549.44) scale(1.1813,1)" font-family="'Liberation Sans', sans-serif" font-size="36.47" fill="#5c5c5c" stroke="#5c5c5c" stroke-width="0.35">O</text>
<text transform="translate(590.24,1806.54) scale(1.1221,1)" font-family="'Liberation Sans', sans-serif" font-size="36.27" fill="#5c5c5c" stroke="#5c5c5c" stroke-width="0.35">Ba</text>
<text transform="translate(771.90,1464.05) scale(1.3264,1)" font-family="'Liberation Sans', sans-serif" font-size="35.10" fill="#5c5c5c" stroke="#5c5c5c" stroke-width="0.35">Si</text>
<text transform="translate(1269.26,1817.02) scale(1.0547,1)" font-family="'Liberation Sans', sans-serif" font-size="38.42" fill="#5c5c5c" stroke="#5c5c5c" stroke-width="0.35">Ba</text>
<text transform="translate(1387.97,1761.52) scale(1.0701,1)" font-family="'Liberation Sans', sans-serif" font-size="37.71" fill="#5c5c5c" stroke="#5c5c5c" stroke-width="0.35">Ba</text>
<text transform="translate(1470.81,1793.03) scale(1.0790,1)" font-family="'Liberation Sans', sans-serif" font-size="36.99" fill="#5c5c5c" stroke="#5c5c5c" stroke-width="0.35">Ba</text>
<text transform="translate(1544.86,1811.33) scale(1.1244,1)" font-family="'Liberation Sans', sans-serif" font-size="37.13" fill="#5c5c5c" stroke="#5c5c5c" stroke-width="0.35">Ba</text>
<text transform="translate(1629.66,1815.73) scale(1.1244,1)" font-family="'Liberation Sans', sans-serif" font-size="37.13" fill="#5c5c5c" stroke="#5c5c5c" stroke-width="0.35">Ba</text>
<text transform="translate(1691.78,1818.33) scale(1.0843,1)" font-family="'Liberation Sans', sans-serif" font-size="37.13" fill="#5c5c5c" stroke="#5c5c5c" stroke-width="0.35">Ba</text>
<text transform="scale(1.1578,1)" font-family="'Liberation Sans', sans-serif" font-size="36.36" fill="#5c5c5c" stroke="#5c5c5c" stroke-width="0.35"><tspan x="341.21" y="1359.88" font-size="36.25" stroke-width="0.9">[</tspan><tspan x="350.33" y="1363.20">MAP 1</tspan><tspan x="464.82" y="1359.88" font-size="36.25" stroke-width="0.9">]</tspan></text>
<text transform="translate(243.23,1766.94) rotate(-90) scale(0.7394,1)" font-family="'Liberation Sans', sans-serif" font-size="47.08" fill="#585858" stroke="#585858" stroke-width="0.8">Counts[x1.E+3]</text>
</g>
<g filter="url(#soft3)"><g transform="scale(1.35,1)"><path d="M295.56,1921.5L300.18,1921.5L303.26,1921.5L304.80,1921.5L306.34,1921.5L307.88,1921.5L309.42,1921.5L310.96,1921.5L312.50,1921.4L314.04,1921.4L315.59,1921.3L317.13,1921.2L318.67,1921.1L320.21,1920.8L321.75,1920.4L323.29,1919.8L324.83,1919.0L326.37,1918.0L327.91,1916.9L329.45,1915.8L330.99,1913.6L332.53,1909.6L334.07,1904.8L335.61,1900.0L337.16,1895.4L338.70,1890.9L340.24,1886.4L341.78,1882.6L343.32,1882.2L344.86,1885.2L346.40,1889.6L347.94,1894.0L349.48,1898.4L352.56,1907.3L354.10,1910.9L355.64,1912.8L357.19,1913.1L358.73,1913.0L360.27,1912.9L361.81,1912.6L363.35,1912.1L364.89,1911.0L366.43,1908.9L367.97,1905.0L369.51,1898.3L371.05,1887.4L372.59,1870.6L374.13,1846.3L375.67,1813.5L377.21,1773.0L378.76,1727.8L380.30,1684.1L381.84,1652.1L383.38,1650.5L384.92,1681.1L386.46,1724.2L388.00,1769.6L389.54,1810.7L391.08,1844.1L392.62,1869.0L394.16,1886.4L395.70,1897.7L397.24,1904.6L398.79,1908.6L400.33,1910.9L401.87,1912.0L403.41,1912.6L404.95,1912.8L406.49,1912.9L408.03,1912.9L409.57,1912.9L411.11,1912.7L412.65,1912.5L414.19,1912.3L415.73,1911.9L417.27,1911.4L418.81,1910.8L420.36,1910.2L421.90,1909.6L423.44,1909.0L424.98,1908.5L426.52,1908.2L428.06,1908.1L429.60,1908.2L431.14,1908.5L432.68,1909.0L434.22,1909.5L435.76,1910.2L437.30,1910.8L438.84,1911.3L440.39,1911.3L441.93,1910.0L443.47,1907.7L445.01,1905.3L446.55,1902.7L448.09,1900.1L449.63,1897.5L451.17,1894.8L452.71,1893.0L454.25,1893.1L455.79,1895.4L457.33,1898.1L458.87,1900.8L461.96,1906.2L463.50,1908.9L465.04,1911.3L466.58,1912.7L468.12,1913.1L491.23,1913.1L495.85,1913.1L498.93,1913.1L500.47,1913.1L502.01,1913.1L503.56,1913.1L505.10,1913.1L506.64,1913.1L508.18,1913.1L509.72,1913.1L511.26,1913.0L512.80,1913.0L514.34,1912.9L515.88,1912.9L517.42,1912.7L518.96,1912.6L520.50,1912.3L522.04,1911.9L523.59,1911.4L525.13,1910.7L526.67,1909.6L528.21,1908.3L529.75,1906.5L531.29,1904.1L532.83,1901.1L534.37,1897.4L535.91,1892.8L537.45,1887.5L538.99,1881.4L540.53,1874.8L542.07,1868.0L543.61,1861.6L545.16,1856.9L546.70,1858.0L548.24,1863.4L549.78,1869.9L551.32,1876.7L552.86,1883.2L554.40,1889.1L555.94,1894.2L557.48,1898.5L559.02,1902.0L560.56,1904.7L562.10,1906.8L563.64,1908.2L565.19,1909.0L566.73,1909.1L568.27,1908.2L569.81,1906.0L571.35,1902.0L572.89,1895.4L574.43,1885.1L575.97,1869.9L577.51,1848.8L579.05,1820.9L580.59,1785.7L582.13,1744.1L583.67,1698.1L585.21,1651.3L586.76,1608.7L588.30,1576.6L589.84,1562.6L591.38,1576.2L592.92,1608.0L594.46,1650.4L596.00,1697.2L597.54,1743.3L599.08,1785.0L600.62,1820.3L602.16,1848.5L603.70,1869.8L605.24,1885.1L606.79,1895.7L608.33,1902.6L609.87,1907.0L611.41,1909.6L612.95,1911.1L614.49,1911.9L616.03,1912.3L617.57,1912.4L619.11,1912.3L620.65,1912.2L622.19,1911.9L623.73,1911.5L625.27,1911.0L626.81,1910.4L628.36,1909.8L629.90,1909.0L631.44,1908.2L632.98,1907.4L634.52,1906.6L636.06,1905.9L637.60,1905.2L639.14,1904.7L640.68,1904.3L642.22,1904.1L643.76,1904.1L645.30,1904.3L646.84,1904.7L648.39,1905.3L649.93,1905.9L651.47,1906.7L653.01,1907.5L654.55,1908.3L656.09,1909.2L657.63,1910.0L659.17,1910.8L660.71,1911.5L662.25,1912.3L663.79,1913.1L665.33,1913.9L666.87,1914.6L668.41,1915.4L669.96,1916.0L671.50,1916.4L673.04,1916.7L674.58,1916.9L676.12,1917.1L677.66,1917.2L679.20,1917.2L680.74,1917.3L682.28,1917.3L683.82,1917.3L685.36,1917.3L686.90,1917.3L688.44,1917.3L689.99,1917.3L693.07,1917.3L700.77,1917.3L993.51,1917.3L1004.30,1917.3L1008.92,1917.3L1010.46,1917.3L1012.00,1917.3L1013.54,1917.3L1015.08,1917.3L1016.62,1917.3L1018.16,1917.3L1019.70,1917.3L1021.24,1917.4L1022.79,1917.4L1024.33,1917.5L1025.87,1916.8L1027.41,1914.4L1028.95,1910.5L1030.49,1906.3L1032.03,1902.1L1033.57,1897.9L1035.11,1893.6L1036.65,1889.3L1038.19,1885.0L1039.73,1880.7L1041.27,1876.4L1042.81,1872.0L1044.36,1867.7L1045.90,1863.3L1047.44,1859.0L1048.98,1855.2L1050.52,1854.4L1052.06,1857.1L1061.30,1883.2L1070.55,1909.4L1072.09,1913.7L1073.63,1917.0L1075.17,1918.3L1076.71,1918.5L1085.96,1918.5L1087.50,1918.2L1089.04,1917.0L1090.58,1914.9L1109.07,1887.6L1110.61,1885.6L1112.15,1884.9L1113.69,1886.2L1133.72,1915.8L1135.26,1917.6L1136.80,1918.4L1138.34,1918.5L1146.04,1918.5L1147.59,1918.3L1149.13,1917.6L1150.67,1916.5L1162.99,1906.8L1164.53,1905.7L1166.07,1905.2L1167.61,1905.9L1169.16,1907.0L1181.48,1916.8L1183.02,1917.8L1184.56,1918.4L1186.10,1918.5L1215.38,1918.5L1216.92,1918.5L1218.46,1918.2L1220.00,1917.4L1221.54,1916.3L1227.70,1911.9L1229.24,1911.2L1230.79,1911.5L1232.33,1912.4L1238.49,1916.9L1240.03,1917.8L1241.57,1918.4L1243.11,1918.5L1298.58,1918.5L1306.28,1918.5L1308.21,1918.5" fill="none" stroke="#f4ccd2" stroke-width="7.6" stroke-linejoin="round" opacity="0.55"/><path d="M295.56,1921.5L300.18,1921.5L303.26,1921.5L304.80,1921.5L306.34,1921.5L307.88,1921.5L309.42,1921.5L310.96,1921.5L312.50,1921.4L314.04,1921.4L315.59,1921.3L317.13,1921.2L318.67,1921.1L320.21,1920.8L321.75,1920.4L323.29,1919.8L324.83,1919.0L326.37,1918.0L327.91,1916.9L329.45,1915.8L330.99,1913.6L332.53,1909.6L334.07,1904.8L335.61,1900.0L337.16,1895.4L338.70,1890.9L340.24,1886.4L341.78,1882.6L343.32,1882.2L344.86,1885.2L346.40,1889.6L347.94,1894.0L349.48,1898.4L352.56,1907.3L354.10,1910.9L355.64,1912.8L357.19,1913.1L358.73,1913.0L360.27,1912.9L361.81,1912.6L363.35,1912.1L364.89,1911.0L366.43,1908.9L367.97,1905.0L369.51,1898.3L371.05,1887.4L372.59,1870.6L374.13,1846.3L375.67,1813.5L377.21,1773.0L378.76,1727.8L380.30,1684.1L381.84,1652.1L383.38,1650.5L384.92,1681.1L386.46,1724.2L388.00,1769.6L389.54,1810.7L391.08,1844.1L392.62,1869.0L394.16,1886.4L395.70,1897.7L397.24,1904.6L398.79,1908.6L400.33,1910.9L401.87,1912.0L403.41,1912.6L404.95,1912.8L406.49,1912.9L408.03,1912.9L409.57,1912.9L411.11,1912.7L412.65,1912.5L414.19,1912.3L415.73,1911.9L417.27,1911.4L418.81,1910.8L420.36,1910.2L421.90,1909.6L423.44,1909.0L424.98,1908.5L426.52,1908.2L428.06,1908.1L429.60,1908.2L431.14,1908.5L432.68,1909.0L434.22,1909.5L435.76,1910.2L437.30,1910.8L438.84,1911.3L440.39,1911.3L441.93,1910.0L443.47,1907.7L445.01,1905.3L446.55,1902.7L448.09,1900.1L449.63,1897.5L451.17,1894.8L452.71,1893.0L454.25,1893.1L455.79,1895.4L457.33,1898.1L458.87,1900.8L461.96,1906.2L463.50,1908.9L465.04,1911.3L466.58,1912.7L468.12,1913.1L491.23,1913.1L495.85,1913.1L498.93,1913.1L500.47,1913.1L502.01,1913.1L503.56,1913.1L505.10,1913.1L506.64,1913.1L508.18,1913.1L509.72,1913.1L511.26,1913.0L512.80,1913.0L514.34,1912.9L515.88,1912.9L517.42,1912.7L518.96,1912.6L520.50,1912.3L522.04,1911.9L523.59,1911.4L525.13,1910.7L526.67,1909.6L528.21,1908.3L529.75,1906.5L531.29,1904.1L532.83,1901.1L534.37,1897.4L535.91,1892.8L537.45,1887.5L538.99,1881.4L540.53,1874.8L542.07,1868.0L543.61,1861.6L545.16,1856.9L546.70,1858.0L548.24,1863.4L549.78,1869.9L551.32,1876.7L552.86,1883.2L554.40,1889.1L555.94,1894.2L557.48,1898.5L559.02,1902.0L560.56,1904.7L562.10,1906.8L563.64,1908.2L565.19,1909.0L566.73,1909.1L568.27,1908.2L569.81,1906.0L571.35,1902.0L572.89,1895.4L574.43,1885.1L575.97,1869.9L577.51,1848.8L579.05,1820.9L580.59,1785.7L582.13,1744.1L583.67,1698.1L585.21,1651.3L586.76,1608.7L588.30,1576.6L589.84,1562.6L591.38,1576.2L592.92,1608.0L594.46,1650.4L596.00,1697.2L597.54,1743.3L599.08,1785.0L600.62,1820.3L602.16,1848.5L603.70,1869.8L605.24,1885.1L606.79,1895.7L608.33,1902.6L609.87,1907.0L611.41,1909.6L612.95,1911.1L614.49,1911.9L616.03,1912.3L617.57,1912.4L619.11,1912.3L620.65,1912.2L622.19,1911.9L623.73,1911.5L625.27,1911.0L626.81,1910.4L628.36,1909.8L629.90,1909.0L631.44,1908.2L632.98,1907.4L634.52,1906.6L636.06,1905.9L637.60,1905.2L639.14,1904.7L640.68,1904.3L642.22,1904.1L643.76,1904.1L645.30,1904.3L646.84,1904.7L648.39,1905.3L649.93,1905.9L651.47,1906.7L653.01,1907.5L654.55,1908.3L656.09,1909.2L657.63,1910.0L659.17,1910.8L660.71,1911.5L662.25,1912.3L663.79,1913.1L665.33,1913.9L666.87,1914.6L668.41,1915.4L669.96,1916.0L671.50,1916.4L673.04,1916.7L674.58,1916.9L676.12,1917.1L677.66,1917.2L679.20,1917.2L680.74,1917.3L682.28,1917.3L683.82,1917.3L685.36,1917.3L686.90,1917.3L688.44,1917.3L689.99,1917.3L693.07,1917.3L700.77,1917.3L993.51,1917.3L1004.30,1917.3L1008.92,1917.3L1010.46,1917.3L1012.00,1917.3L1013.54,1917.3L1015.08,1917.3L1016.62,1917.3L1018.16,1917.3L1019.70,1917.3L1021.24,1917.4L1022.79,1917.4L1024.33,1917.5L1025.87,1916.8L1027.41,1914.4L1028.95,1910.5L1030.49,1906.3L1032.03,1902.1L1033.57,1897.9L1035.11,1893.6L1036.65,1889.3L1038.19,1885.0L1039.73,1880.7L1041.27,1876.4L1042.81,1872.0L1044.36,1867.7L1045.90,1863.3L1047.44,1859.0L1048.98,1855.2L1050.52,1854.4L1052.06,1857.1L1061.30,1883.2L1070.55,1909.4L1072.09,1913.7L1073.63,1917.0L1075.17,1918.3L1076.71,1918.5L1085.96,1918.5L1087.50,1918.2L1089.04,1917.0L1090.58,1914.9L1109.07,1887.6L1110.61,1885.6L1112.15,1884.9L1113.69,1886.2L1133.72,1915.8L1135.26,1917.6L1136.80,1918.4L1138.34,1918.5L1146.04,1918.5L1147.59,1918.3L1149.13,1917.6L1150.67,1916.5L1162.99,1906.8L1164.53,1905.7L1166.07,1905.2L1167.61,1905.9L1169.16,1907.0L1181.48,1916.8L1183.02,1917.8L1184.56,1918.4L1186.10,1918.5L1215.38,1918.5L1216.92,1918.5L1218.46,1918.2L1220.00,1917.4L1221.54,1916.3L1227.70,1911.9L1229.24,1911.2L1230.79,1911.5L1232.33,1912.4L1238.49,1916.9L1240.03,1917.8L1241.57,1918.4L1243.11,1918.5L1298.58,1918.5L1306.28,1918.5L1308.21,1918.5" fill="none" stroke="#c0586c" stroke-width="3.2" stroke-linejoin="round" stroke-linecap="butt"/></g></g>
<g filter="url(#soft2)">
<rect x="792.60" y="1571.60" width="7.00" height="12.40" fill="#e01818"/>
<rect x="513.60" y="1656.50" width="6.40" height="18.50" fill="#dd2020"/>
<rect x="435.00" y="1920.00" width="10.30" height="4.50" fill="#7a1010"/>
</g>
<g filter="url(#soft2)">
<rect x="26.30" y="245.20" width="173.50" height="2.40" fill="#b8b8b8"/>
<rect x="22.30" y="364.00" width="181.50" height="3.60" fill="#b8b8b8"/>
<rect x="24.30" y="243.20" width="177.50" height="118.80" fill="none" stroke="#0c0c0c" stroke-width="4"/>
<rect x="26.30" y="241.20" width="173.50" height="4.00" fill="#3e3e3e"/>
<rect x="26.30" y="360.00" width="173.50" height="4.00" fill="#3e3e3e"/>
<text transform="translate(54.59,321.80) scale(1.0377,1)" font-family="'Liberation Serif', serif" font-size="77.56" fill="#0a0a0a">HL</text>
<rect x="26.40" y="901.40" width="161.60" height="2.40" fill="#b8b8b8"/>
<rect x="22.40" y="1024.40" width="169.60" height="3.60" fill="#b8b8b8"/>
<rect x="24.40" y="899.40" width="165.60" height="123.00" fill="none" stroke="#0c0c0c" stroke-width="4"/>
<rect x="26.40" y="897.40" width="161.60" height="4.00" fill="#3e3e3e"/>
<rect x="26.40" y="1020.40" width="161.60" height="4.00" fill="#3e3e3e"/>
<text transform="translate(54.95,982.00) scale(0.9742,1)" font-family="'Liberation Serif', serif" font-size="76.64" fill="#0a0a0a">PV</text>
<rect x="30.20" y="1580.50" width="169.50" height="2.40" fill="#b8b8b8"/>
<rect x="26.20" y="1703.70" width="177.50" height="3.60" fill="#b8b8b8"/>
<rect x="28.20" y="1578.50" width="173.50" height="123.20" fill="none" stroke="#0c0c0c" stroke-width="4"/>
<rect x="30.20" y="1576.50" width="169.50" height="4.00" fill="#3e3e3e"/>
<rect x="30.20" y="1699.70" width="169.50" height="4.00" fill="#3e3e3e"/>
<text transform="translate(64.42,1661.00) scale(1.0308,1)" font-family="'Liberation Serif', serif" font-size="75.88" fill="#0a0a0a">AP</text>
</g>
</svg>
</body>
</html>
